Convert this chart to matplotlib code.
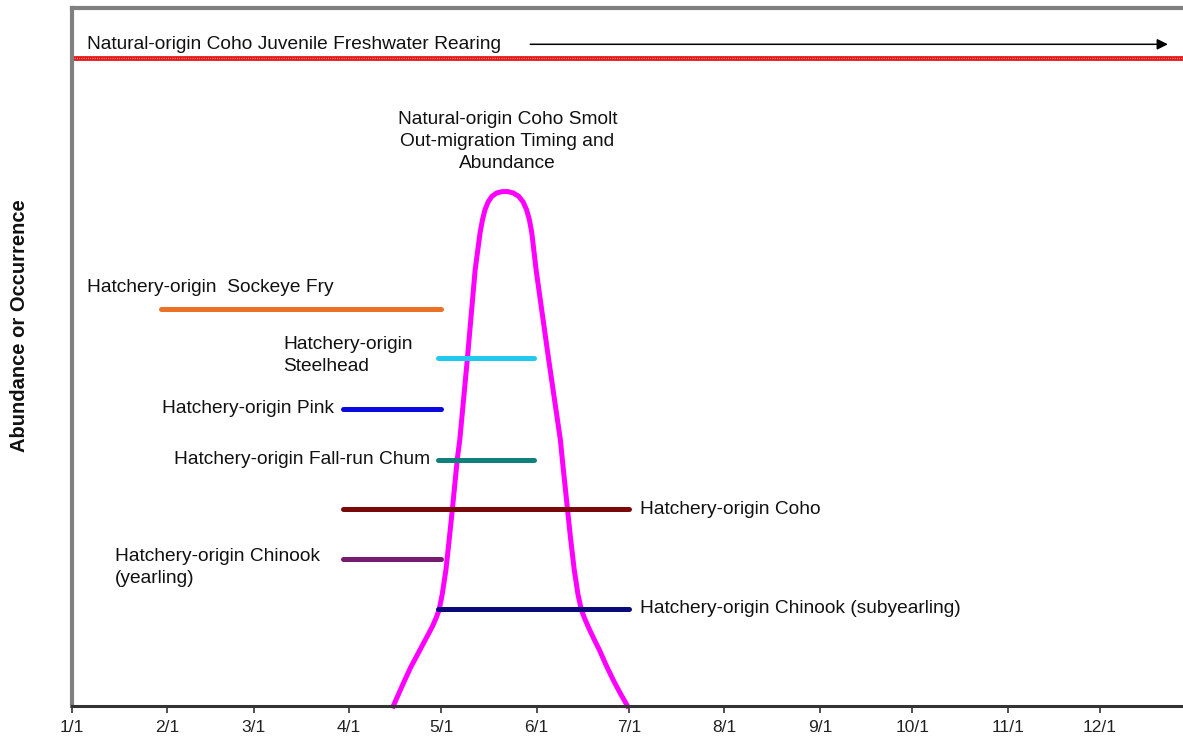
import matplotlib.pyplot as plt
import numpy as np

plt.rcParams["font.family"] = ["Liberation Sans", "DejaVu Sans"]

# --- month ticks (day of year) ---
tick_days = [0, 31, 59, 90, 120, 151, 181, 212, 243, 273, 304, 334]
tick_labels = ["1/1", "2/1", "3/1", "4/1", "5/1", "6/1", "7/1",
               "8/1", "9/1", "10/1", "11/1", "12/1"]

# --- hatchery release windows (start day, end day, level) ---
groups = ["Sockeye Fry", "Steelhead", "Pink", "Fall-run Chum",
          "Coho", "Chinook (yearling)", "Chinook (subyearling)"]
start_day = [29, 119, 88, 119, 88, 88, 119]
end_day = [120, 150, 120, 150, 181, 120, 181]
level = [56.9, 49.9, 42.6, 35.2, 28.2, 21.1, 13.9]
colors = ["#EA7125", "#22C8EE", "#0A0AE0", "#11807A",
          "#7A0A0A", "#741C6E", "#0A0A7A"]

# --- natural-origin coho smolt out-migration curve ---
smolt_day = [104.4, 107.3, 110.0, 112.3, 114.1, 115.8, 117.1, 118.3, 119.3, 120.3,
             121.5, 122.6, 123.6, 125.2, 126.0, 128.5, 131.0, 132.6, 133.4,
             134.2, 135.2, 136.4, 138.0, 139.8, 141.6, 143.4, 145.2, 146.6,
             147.7, 148.6, 149.4, 150.8, 154.8, 158.7, 159.3,
             161.0, 162.0, 163.2, 164.4, 165.5, 166.7, 168.1, 169.6, 171.4,
             173.5, 176.0, 178.3, 180.5]
smolt_val = [0.0, 2.9, 5.5, 7.4, 8.9, 10.3, 11.4, 12.6, 13.8, 16.0,
             19.5, 24.0, 28.2, 35.4, 38.1, 49.9, 62.5, 67.8, 69.7,
             71.1, 72.2, 73.0, 73.5, 73.7, 73.7, 73.5, 73.0, 72.2,
             71.1, 69.7, 67.8, 62.5, 49.9, 38.1, 35.4,
             28.2, 24.0, 19.5, 16.0, 13.8, 12.4, 11.0, 9.6, 8.0,
             5.9, 3.6, 1.7, 0.0]

rearing_level = 92.8

fig = plt.figure(figsize=(11.83, 7.42), dpi=100)
ax = fig.add_axes([72 / 1183, 1 - 706 / 742, 1 - 72 / 1183, 698 / 742])
ax.set_xlim(0, 361)
ax.set_ylim(0, 100)

# juvenile rearing (red dotted band) + arrow
ax.plot([0, 361], [rearing_level, rearing_level], color="#E41010", lw=3.4,
        solid_capstyle="butt")
ax.plot([0, 361], [rearing_level, rearing_level], color="#FF9090", lw=1.0,
        linestyle=(0, (0.7, 0.9)), solid_capstyle="butt")
ax.text(5, 94.8, "Natural-origin Coho Juvenile Freshwater Rearing",
        fontsize=13.8, va="center", ha="left", color="#111111")
ax.annotate("", xy=(357, 94.8), xytext=(148, 94.8),
            arrowprops=dict(arrowstyle="-|>", color="black", lw=1.1,
                            mutation_scale=16))

# smolt curve
ax.plot(smolt_day, smolt_val, color="#FF00FF", lw=3.6, solid_joinstyle="round",
        clip_on=False, zorder=2)
ax.text(141.5, 80.9, "Natural-origin Coho Smolt\nOut-migration Timing and\nAbundance",
        fontsize=13.8, ha="center", va="center", linespacing=1.4, color="#111111")

# hatchery bars
for s, e, lv, c in zip(start_day, end_day, level, colors):
    ax.plot([s, e], [lv, lv], color=c, lw=3.6, solid_capstyle="round", zorder=3)

lab_kw = dict(fontsize=13.8, va="center", color="#111111", linespacing=1.4)
ax.text(5, 60.0, "Hatchery-origin  Sockeye Fry", ha="left", **lab_kw)
ax.text(68.6, 50.2, "Hatchery-origin\nSteelhead", ha="left", **lab_kw)
ax.text(85, 42.6, "Hatchery-origin Pink", ha="right", **lab_kw)
ax.text(116.5, 35.3, "Hatchery-origin Fall-run Chum", ha="right", **lab_kw)
ax.text(184.5, 28.2, "Hatchery-origin Coho", ha="left", **lab_kw)
ax.text(14, 19.8, "Hatchery-origin Chinook\n(yearling)", ha="left", **lab_kw)
ax.text(184.5, 13.9, "Hatchery-origin Chinook (subyearling)", ha="left", **lab_kw)

# axes styling
ax.set_xticks(tick_days)
ax.set_xticklabels(tick_labels, fontsize=12.5, color="#222222")
ax.set_yticks([])
ax.tick_params(axis="x", direction="out", length=5, width=1.2, color="#333333", pad=5)
for side in ["left", "top"]:
    ax.spines[side].set_color("#808080")
    ax.spines[side].set_linewidth(3)
ax.spines["bottom"].set_color("#333333")
ax.spines["bottom"].set_linewidth(2.2)
ax.spines["right"].set_visible(False)

fig.text(20 / 1183, 1 - 326 / 742, "Abundance or Occurrence", rotation=90,
         fontsize=14.5, fontweight="bold", ha="center", va="center", color="#111111")

fig.savefig("out.png", dpi=100)
